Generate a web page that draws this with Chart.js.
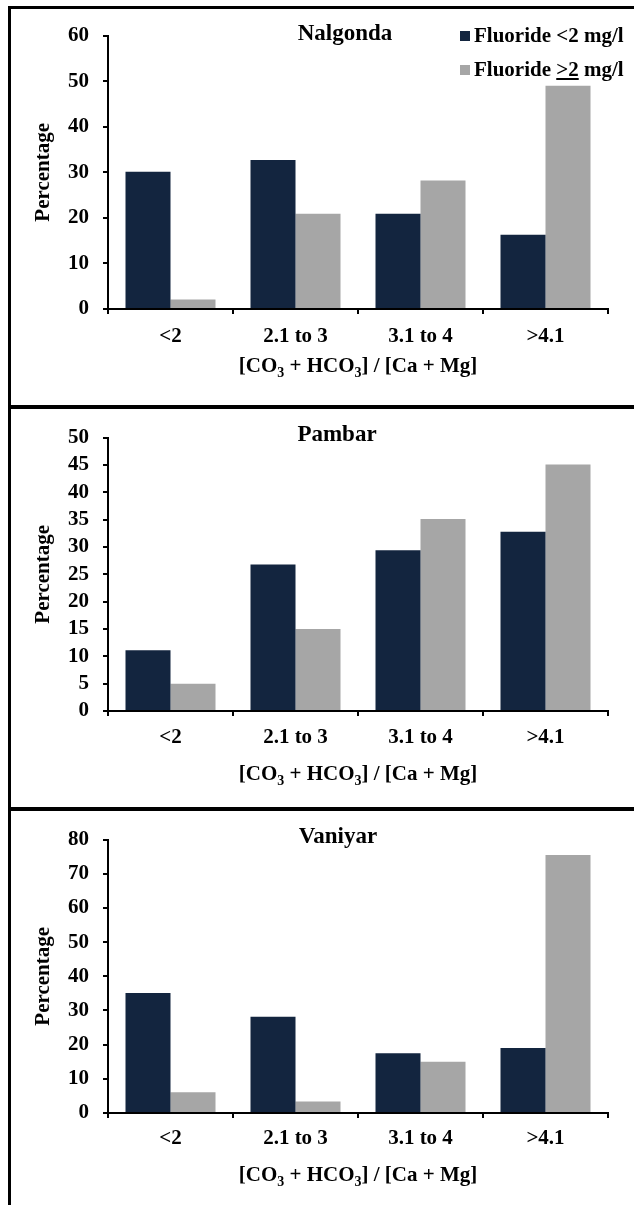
<!DOCTYPE html>
<html>
<head>
  <meta charset="UTF-8">
  <title>Fluoride and [CO3 + HCO3] / [Ca + Mg]</title>
  <script src="https://cdn.jsdelivr.net/npm/chart.js@4.4.1/dist/chart.umd.min.js"></script>
  <style>
    body {
      margin: 0;
      background: #fff;
      font-family: "Liberation Serif", "Times New Roman", serif;
    }
    #page {
      position: relative;
      width: 634px;
      height: 1205px;
      overflow: hidden;
    }
    .panel {
      position: absolute;
      left: 0;
      width: 634px;
    }
    .rule {
      position: absolute;
      background: #000;
    }
    .legend-row {
      position: absolute;
      left: 460px;
      height: 24px;
      line-height: 24px;
      font-size: 21px;
      font-weight: bold;
      color: #000;
      white-space: nowrap;
    }
    .legend-row i {
      display: inline-block;
      width: 10px;
      height: 10px;
      margin-right: 4px;
      vertical-align: 1px;
    }
  </style>
</head>
<body>
<div id="page">
  <div class="panel" style="top:9px; height:396px;"><canvas id="chart1" width="634" height="396"></canvas></div>
  <div class="panel" style="top:411px; height:396px;"><canvas id="chart2" width="634" height="396"></canvas></div>
  <div class="panel" style="top:813px; height:392px;"><canvas id="chart3" width="634" height="392"></canvas></div>

  <div class="rule" style="left:8px; top:6px; width:3px; height:1199px;"></div>
  <div class="rule" style="left:8px; top:6px; width:626px; height:3px;"></div>
  <div class="rule" style="left:8px; top:405px; width:626px; height:4px;"></div>
  <div class="rule" style="left:8px; top:807px; width:626px; height:4px;"></div>

  <div id="legend"></div>
</div>

<script>
const categories = ['<2', '2.1 to 3', '3.1 to 4', '>4.1'];
const seriesLabels = ['Fluoride <2 mg/l', 'Fluoride >2 mg/l'];
const seriesColors = ['#13253f', '#a6a6a6'];

const nalgondaLow  = [30.1, 32.7, 20.9, 16.3];
const nalgondaHigh = [2.1, 20.9, 28.2, 49.0];
const pambarLow    = [11.1, 26.8, 29.4, 32.8];
const pambarHigh   = [5.0, 15.0, 35.1, 45.1];
const vaniyarLow   = [35.1, 28.2, 17.5, 19.0];
const vaniyarHigh  = [6.1, 3.4, 15.0, 75.5];

const yTitle = 'Percentage';
// x title with subscripts, drawn piece by piece
const xTitleParts = [
  { t: '[CO' }, { t: '3', sub: true }, { t: ' + HCO' }, { t: '3', sub: true }, { t: '] / [Ca + Mg]' }
];

const serif = '"Liberation Serif", "Times New Roman", serif';
const labelFont = { family: serif, size: 21, weight: 'bold' };

// draws the site name and the x title inside each panel
const panelText = {
  id: 'panelText',
  afterDraw(chart, args, opts) {
    const ctx = chart.ctx;
    const area = chart.chartArea;
    ctx.save();
    ctx.fillStyle = '#000';
    ctx.textBaseline = 'middle';
    ctx.textAlign = 'center';
    ctx.font = 'bold 23px ' + serif;
    ctx.fillText(opts.name, opts.nameX, opts.nameY);

    const big = 'bold 21px ' + serif;
    const small = 'bold 14px ' + serif;
    ctx.textAlign = 'left';
    let total = 0;
    xTitleParts.forEach(p => {
      ctx.font = p.sub ? small : big;
      total += ctx.measureText(p.t).width;
    });
    let x = (area.left + area.right) / 2 - total / 2;
    xTitleParts.forEach(p => {
      ctx.font = p.sub ? small : big;
      ctx.fillText(p.t, x, opts.xTitleY + (p.sub ? 6 : 0));
      x += ctx.measureText(p.t).width;
    });
    ctx.restore();
  }
};

function axisGrid() {
  return {
    display: true,
    drawOnChartArea: false,
    drawTicks: true,
    tickLength: 5,
    color: '#000',
    lineWidth: 2
  };
}

function makeChart(id, p) {
  return new Chart(document.getElementById(id), {
    type: 'bar',
    data: {
      labels: categories,
      datasets: [
        { label: seriesLabels[0], data: p.low, backgroundColor: seriesColors[0],
          categoryPercentage: 0.72, barPercentage: 1 },
        { label: seriesLabels[1], data: p.high, backgroundColor: seriesColors[1],
          categoryPercentage: 0.72, barPercentage: 1 }
      ]
    },
    options: {
      responsive: false,
      animation: false,
      layout: { padding: { top: p.padTop, right: 26, left: 0, bottom: 0 } },
      plugins: {
        legend: { display: false },
        tooltip: { enabled: false },
        panelText: { name: p.name, nameX: p.nameX, nameY: p.nameY, xTitleY: p.xTitleY }
      },
      scales: {
        x: {
          z: 1,
          grid: Object.assign(axisGrid(), { offset: true }),
          border: { display: true, color: '#000', width: 2 },
          ticks: { color: '#000', font: labelFont, padding: p.xTickPad, maxRotation: 0, autoSkip: false },
          afterFit: s => { s.height = p.xHeight; }
        },
        y: {
          min: 0,
          max: p.max,
          grid: axisGrid(),
          border: { display: true, color: '#000', width: 2 },
          ticks: { stepSize: p.step, color: '#000', font: labelFont, padding: 14, autoSkip: false },
          title: { display: true, text: yTitle, color: '#000', font: labelFont, padding: { top: 31, bottom: 0 } },
          afterFit: s => { s.width = 108; }
        }
      }
    },
    plugins: [panelText]
  });
}

makeChart('chart1', { name: 'Nalgonda', low: nalgondaLow, high: nalgondaHigh, max: 60, step: 10,
  padTop: 18, xHeight: 96, xTickPad: 10, xTitleY: 358, nameX: 345, nameY: 25 });
makeChart('chart2', { name: 'Pambar', low: pambarLow, high: pambarHigh, max: 50, step: 5,
  padTop: 18, xHeight: 96, xTickPad: 9, xTitleY: 364, nameX: 337, nameY: 24 });
makeChart('chart3', { name: 'Vaniyar', low: vaniyarLow, high: vaniyarHigh, max: 80, step: 10,
  padTop: 17, xHeight: 92, xTickPad: 8, xTitleY: 363, nameX: 338, nameY: 24 });

// legend sits only in the first panel
const legend = document.getElementById('legend');
seriesLabels.forEach((label, i) => {
  const row = document.createElement('div');
  row.className = 'legend-row';
  row.style.top = (23 + i * 34) + 'px';
  const sw = document.createElement('i');
  sw.style.background = seriesColors[i];
  row.appendChild(sw);
  const txt = document.createElement('span');
  if (i === 1) {
    // the source marks ">2" with an underline (greater than or equal)
    txt.innerHTML = label.replace('>2', '<u>&gt;2</u>');
  } else {
    txt.textContent = label;
  }
  row.appendChild(txt);
  legend.appendChild(row);
});
</script>
</body>
</html>
